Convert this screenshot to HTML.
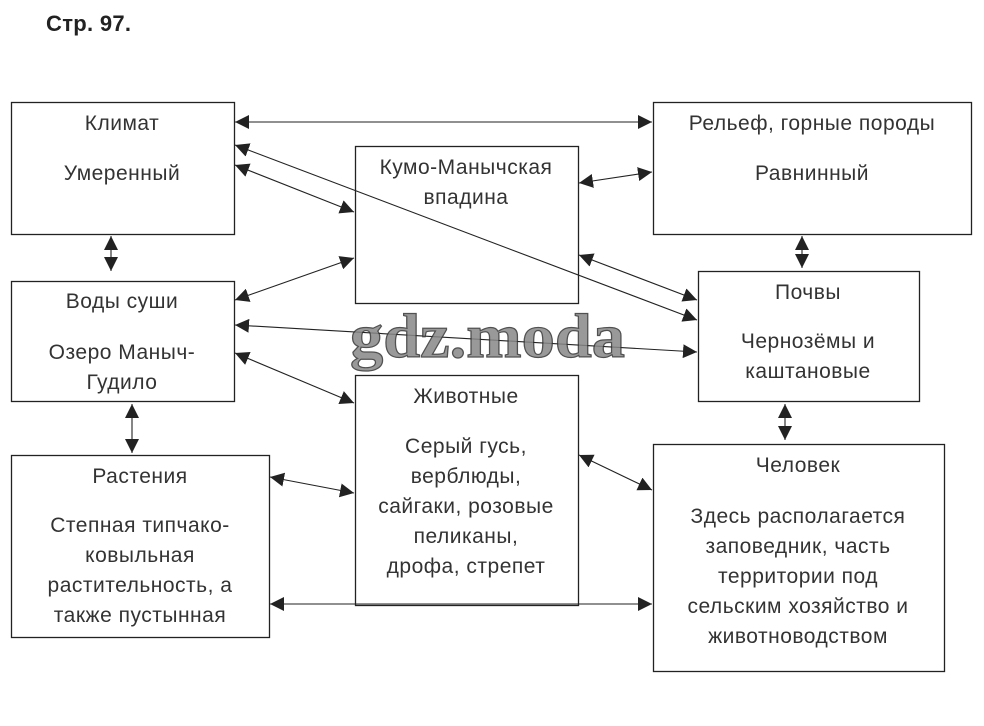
<!DOCTYPE html>
<html><head><meta charset="utf-8"><style>
html,body{margin:0;padding:0;background:#fff;}
svg{display:block;}
text{font-family:"Liberation Sans",sans-serif;fill:#333;font-size:21px;letter-spacing:0.5px;}
</style></head><body>
<svg width="984" height="726" viewBox="0 0 984 726" xmlns="http://www.w3.org/2000/svg">
<defs>
<marker id="a" viewBox="0 0 10 10" refX="10" refY="5" markerWidth="14" markerHeight="14" markerUnits="userSpaceOnUse" orient="auto-start-reverse">
<path d="M0,0 L10,5 L0,10 z" fill="#222"/>
</marker>
</defs>
<text x="46" y="31" style="font-weight:bold;font-size:22px;fill:#222;letter-spacing:0.3px">Стр. 97.</text>
<g fill="none" stroke="#222" stroke-width="1.3">
<rect x="11.5" y="102.5" width="223" height="132"/>
<rect x="355.5" y="146.5" width="223" height="157"/>
<rect x="653.5" y="102.5" width="318" height="132"/>
<rect x="11.5" y="281.5" width="223" height="120"/>
<rect x="698.5" y="271.5" width="221" height="130"/>
<rect x="355.5" y="375.5" width="223" height="230"/>
<rect x="11.5" y="455.5" width="258" height="182"/>
<rect x="653.5" y="444.5" width="291" height="227"/>
</g>
<g stroke="#222" stroke-width="1.1" marker-start="url(#a)" marker-end="url(#a)">
<line x1="235" y1="122" x2="652" y2="122"/>
<line x1="235" y1="145" x2="697" y2="320"/>
<line x1="235" y1="165" x2="354" y2="212"/>
<line x1="579" y1="183" x2="652" y2="172"/>
<line x1="579" y1="255" x2="697" y2="300"/>
<line x1="235" y1="300" x2="354" y2="258"/>
<line x1="235" y1="325" x2="697" y2="352"/>
<line x1="235" y1="353" x2="354" y2="403"/>
<line x1="111" y1="236" x2="111" y2="271"/>
<line x1="132" y1="404" x2="132" y2="453"/>
<line x1="802" y1="236" x2="802" y2="268"/>
<line x1="785" y1="404" x2="785" y2="440"/>
<line x1="270" y1="477" x2="354" y2="493"/>
<line x1="579" y1="455" x2="652" y2="490"/>
<line x1="270" y1="604" x2="652" y2="604"/>
</g>
<text x="350" y="357" textLength="275" lengthAdjust="spacingAndGlyphs" style="font-family:'Liberation Serif',serif;font-weight:bold;font-size:62px;fill:#888;stroke:#333;stroke-width:1.2;opacity:.85;letter-spacing:0">gdz.moda</text>
<g text-anchor="middle">
<text x="122" y="130">Климат</text>
<text x="122" y="180">Умеренный</text>
<text x="812" y="130">Рельеф, горные породы</text>
<text x="812" y="180">Равнинный</text>
<text x="466" y="174">Кумо-Манычская</text>
<text x="466" y="204">впадина</text>
<text x="122" y="308">Воды суши</text>
<text x="122" y="359">Озеро Маныч-</text>
<text x="122" y="389">Гудило</text>
<text x="808" y="299">Почвы</text>
<text x="808" y="348">Чернозёмы и</text>
<text x="808" y="378">каштановые</text>
<text x="466" y="403">Животные</text>
<text x="466" y="453">Серый гусь,</text>
<text x="466" y="483">верблюды,</text>
<text x="466" y="513">сайгаки, розовые</text>
<text x="466" y="543">пеликаны,</text>
<text x="466" y="573">дрофа, стрепет</text>
<text x="140" y="483">Растения</text>
<text x="140" y="532">Степная типчако-</text>
<text x="140" y="562">ковыльная</text>
<text x="140" y="592">растительность, а</text>
<text x="140" y="622">также пустынная</text>
<text x="798" y="472">Человек</text>
<text x="798" y="523">Здесь располагается</text>
<text x="798" y="553">заповедник, часть</text>
<text x="798" y="583">территории под</text>
<text x="798" y="613">сельским хозяйство и</text>
<text x="798" y="643">животноводством</text>
</g>
</svg>
</body></html>
